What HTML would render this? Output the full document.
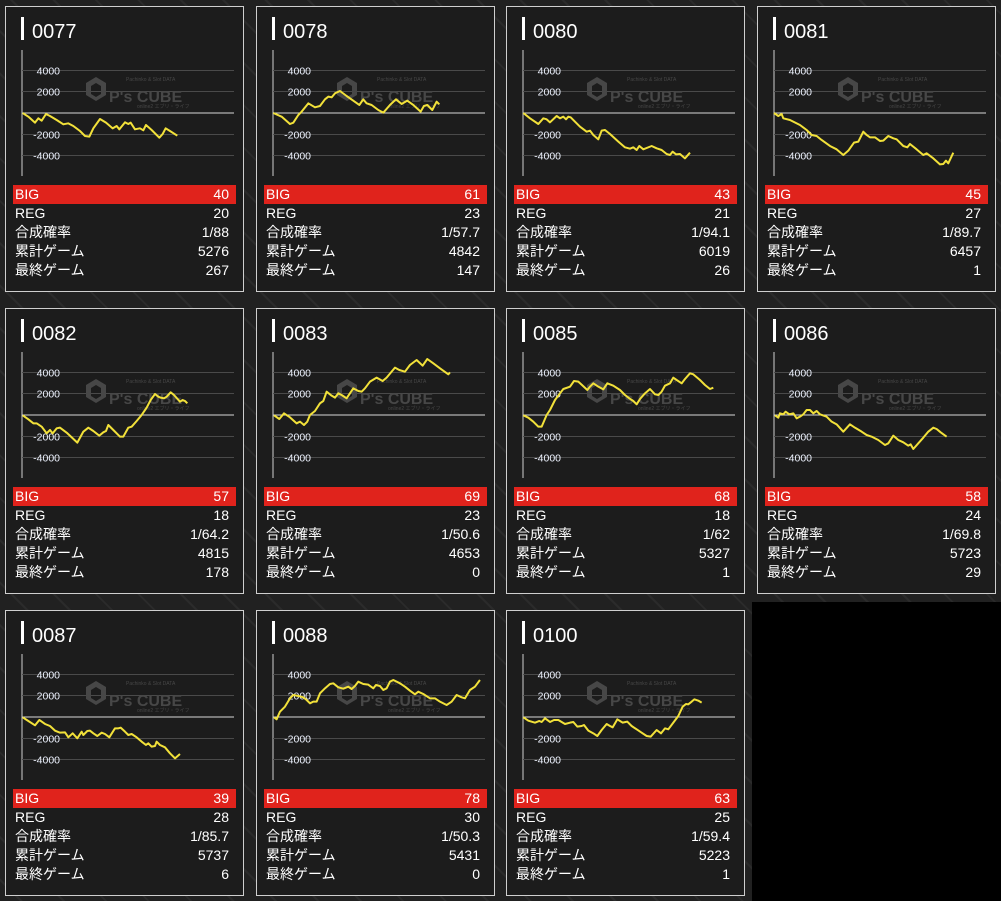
<!DOCTYPE html>
<html><head><meta charset="utf-8">
<style>
html,body{margin:0;padding:0}
body{width:1001px;height:901px;position:relative;overflow:hidden;
background-color:#262626;
background-image:repeating-linear-gradient(45deg,#212121 0 14px,#2b2b2b 14px 16px,#212121 16px 30px),repeating-linear-gradient(-45deg,rgba(0,0,0,.25) 0 14px,rgba(255,255,255,.03) 14px 16px,rgba(0,0,0,.25) 16px 30px);
font-family:"Liberation Sans","Noto Sans CJK JP",sans-serif;color:#fff}
.blk{position:absolute;left:752px;top:602px;width:249px;height:299px;background:#000}
.card{position:absolute;width:237px;height:284px;background:#1c1c1c;border:1px solid #cfcfcf}
.card .t{position:absolute;left:15px;top:10px;height:23px;border-left:3px solid #fff;padding-left:8px;font-size:20px;line-height:23px}
.card .t span{position:relative;top:4px}
.card .rows{position:absolute;left:7px;top:178px;width:223px}
.r{height:19px;line-height:19px;font-size:14px;display:flex;justify-content:space-between;padding:0 7px 0 2px}
.r.big{background:#e0231c}
</style></head><body>
<div class="blk"></div>

<div class="card" style="left:5px;top:6px"><div class="t"><span>0077</span></div><div class="rows"><div class="r big"><span>BIG</span><span>40</span></div><div class="r"><span>REG</span><span>20</span></div><div class="r"><span>合成確率</span><span>1/88</span></div><div class="r"><span>累計ゲーム</span><span>5276</span></div><div class="r"><span>最終ゲーム</span><span>267</span></div></div></div>
<div class="card" style="left:256px;top:6px"><div class="t"><span>0078</span></div><div class="rows"><div class="r big"><span>BIG</span><span>61</span></div><div class="r"><span>REG</span><span>23</span></div><div class="r"><span>合成確率</span><span>1/57.7</span></div><div class="r"><span>累計ゲーム</span><span>4842</span></div><div class="r"><span>最終ゲーム</span><span>147</span></div></div></div>
<div class="card" style="left:506px;top:6px"><div class="t"><span>0080</span></div><div class="rows"><div class="r big"><span>BIG</span><span>43</span></div><div class="r"><span>REG</span><span>21</span></div><div class="r"><span>合成確率</span><span>1/94.1</span></div><div class="r"><span>累計ゲーム</span><span>6019</span></div><div class="r"><span>最終ゲーム</span><span>26</span></div></div></div>
<div class="card" style="left:757px;top:6px"><div class="t"><span>0081</span></div><div class="rows"><div class="r big"><span>BIG</span><span>45</span></div><div class="r"><span>REG</span><span>27</span></div><div class="r"><span>合成確率</span><span>1/89.7</span></div><div class="r"><span>累計ゲーム</span><span>6457</span></div><div class="r"><span>最終ゲーム</span><span>1</span></div></div></div>

<div class="card" style="left:5px;top:308px"><div class="t"><span>0082</span></div><div class="rows"><div class="r big"><span>BIG</span><span>57</span></div><div class="r"><span>REG</span><span>18</span></div><div class="r"><span>合成確率</span><span>1/64.2</span></div><div class="r"><span>累計ゲーム</span><span>4815</span></div><div class="r"><span>最終ゲーム</span><span>178</span></div></div></div>
<div class="card" style="left:256px;top:308px"><div class="t"><span>0083</span></div><div class="rows"><div class="r big"><span>BIG</span><span>69</span></div><div class="r"><span>REG</span><span>23</span></div><div class="r"><span>合成確率</span><span>1/50.6</span></div><div class="r"><span>累計ゲーム</span><span>4653</span></div><div class="r"><span>最終ゲーム</span><span>0</span></div></div></div>
<div class="card" style="left:506px;top:308px"><div class="t"><span>0085</span></div><div class="rows"><div class="r big"><span>BIG</span><span>68</span></div><div class="r"><span>REG</span><span>18</span></div><div class="r"><span>合成確率</span><span>1/62</span></div><div class="r"><span>累計ゲーム</span><span>5327</span></div><div class="r"><span>最終ゲーム</span><span>1</span></div></div></div>
<div class="card" style="left:757px;top:308px"><div class="t"><span>0086</span></div><div class="rows"><div class="r big"><span>BIG</span><span>58</span></div><div class="r"><span>REG</span><span>24</span></div><div class="r"><span>合成確率</span><span>1/69.8</span></div><div class="r"><span>累計ゲーム</span><span>5723</span></div><div class="r"><span>最終ゲーム</span><span>29</span></div></div></div>

<div class="card" style="left:5px;top:610px"><div class="t"><span>0087</span></div><div class="rows"><div class="r big"><span>BIG</span><span>39</span></div><div class="r"><span>REG</span><span>28</span></div><div class="r"><span>合成確率</span><span>1/85.7</span></div><div class="r"><span>累計ゲーム</span><span>5737</span></div><div class="r"><span>最終ゲーム</span><span>6</span></div></div></div>
<div class="card" style="left:256px;top:610px"><div class="t"><span>0088</span></div><div class="rows"><div class="r big"><span>BIG</span><span>78</span></div><div class="r"><span>REG</span><span>30</span></div><div class="r"><span>合成確率</span><span>1/50.3</span></div><div class="r"><span>累計ゲーム</span><span>5431</span></div><div class="r"><span>最終ゲーム</span><span>0</span></div></div></div>
<div class="card" style="left:506px;top:610px"><div class="t"><span>0100</span></div><div class="rows"><div class="r big"><span>BIG</span><span>63</span></div><div class="r"><span>REG</span><span>25</span></div><div class="r"><span>合成確率</span><span>1/59.4</span></div><div class="r"><span>累計ゲーム</span><span>5223</span></div><div class="r"><span>最終ゲーム</span><span>1</span></div></div></div>

<svg width="1001" height="901" style="position:absolute;left:0;top:0" xmlns="http://www.w3.org/2000/svg">
<defs>
<g id="ax">
  <line x1="0" y1="-63" x2="0" y2="63" stroke="#cfcfcf" stroke-width="1"/>
  <g stroke="#4a4a4a" stroke-width="1">
    <line x1="0" y1="-42.5" x2="212" y2="-42.5"/><line x1="0" y1="-21.5" x2="212" y2="-21.5"/>
    <line x1="0" y1="21.5" x2="212" y2="21.5"/><line x1="0" y1="42.5" x2="212" y2="42.5"/>
  </g>
  <line x1="0" y1="0" x2="212" y2="0" stroke="#d8d8d8" stroke-width="1"/>
  <g font-family="Liberation Sans, sans-serif" font-size="10.5" fill="#eef3ff" text-anchor="end">
    <text x="38" y="-38.5">4000</text><text x="38" y="-17.5">2000</text>
    <text x="38" y="25.5">-2000</text><text x="38" y="46.5">-4000</text>
  </g>
  <g fill="#474747">
    <path d="M64 -30 l10 -6 l10 6 v12 l-10 6 l-10 -6z M69 -27 v8 l5 3 l5 -3 v-8 l-5 -3z" fill-rule="evenodd"/>
    <text x="87" y="-11" font-size="16" font-weight="bold" font-family="Liberation Sans, sans-serif">P's CUBE</text>
    <text x="104" y="-32" font-size="5">Pachinko &amp; Slot DATA</text>
    <text x="115" y="-5" font-size="5">online2 エブリ・ライフ</text>
  </g>
</g>
</defs>
<use href="#ax" x="22" y="113"/><use href="#ax" x="273" y="113"/><use href="#ax" x="523" y="113"/><use href="#ax" x="774" y="113"/>
<use href="#ax" x="22" y="415"/><use href="#ax" x="273" y="415"/><use href="#ax" x="523" y="415"/><use href="#ax" x="774" y="415"/>
<use href="#ax" x="22" y="717"/><use href="#ax" x="273" y="717"/><use href="#ax" x="523" y="717"/>
<g fill="none" stroke="#f2e13a" stroke-width="6" stroke-linejoin="round">
<g transform="translate(0,60) scale(0.3333)">
<polyline points="68,159 85,170 105,188 115,175 125,182 138,162 150,168 170,180 190,193 205,190 220,198 240,213 255,228 268,230 280,205 300,177 318,188 338,205 350,198 358,208 375,187 385,192 392,188 405,208 420,205 430,211 438,195 455,210 478,233 488,222 497,205 510,213 532,227"/>
<polyline points="820,159 845,170 870,192 880,188 895,165 905,155 925,130 945,142 960,138 975,118 985,110 995,112 1005,100 1020,93 1040,108 1060,122 1078,135 1090,118 1100,130 1115,135 1135,150 1150,158 1170,135 1188,118 1205,132 1222,122 1240,135 1262,155 1272,138 1282,135 1297,150 1310,125 1318,133"/>
</g>
<g transform="translate(500,60) scale(0.3333)">
<polyline points="70,159 90,175 115,192 130,175 140,178 150,187 170,168 180,175 190,170 198,178 205,170 212,172 225,185 240,200 260,215 270,212 280,225 295,238 305,212 315,210 330,222 355,245 375,262 390,266 400,262 410,270 418,258 430,268 455,258 470,265 485,270 500,282 510,285 518,275 528,283 540,282 555,295 570,278"/>
<polyline points="822,159 835,168 845,162 850,175 870,180 900,195 920,210 935,225 950,228 965,240 990,258 1010,268 1030,285 1045,272 1062,248 1075,245 1090,215 1100,225 1110,232 1125,232 1140,243 1150,242 1165,228 1180,235 1190,238 1210,258 1222,262 1230,252 1250,268 1270,285 1280,280 1300,295 1320,313 1330,312 1338,302 1345,310 1360,278"/>
</g>
<g transform="translate(0,355) scale(0.3333)">
<polyline points="68,181 85,193 100,205 110,205 125,215 140,235 150,225 158,235 170,220 180,218 200,233 232,263 250,230 265,218 280,228 298,242 310,232 318,228 325,210 340,225 360,245 370,245 385,218 395,215 410,198 425,180 440,158 452,135 465,117 475,125 482,128 492,130 500,125 512,112 522,120 540,140 548,135 555,138 562,145"/>
<polyline points="822,181 838,192 852,175 870,187 890,205 900,200 912,210 922,200 930,180 945,168 960,145 970,138 980,110 995,122 1005,128 1015,115 1025,120 1040,130 1060,100 1075,108 1085,110 1095,100 1110,80 1130,68 1148,78 1160,68 1185,38 1198,45 1215,50 1230,30 1250,15 1268,32 1282,12 1300,25 1320,40 1345,58 1350,52"/>
</g>
<g transform="translate(500,355) scale(0.3333)">
<polyline points="70,181 85,188 100,200 115,215 125,215 140,180 150,165 165,135 180,115 190,102 210,95 222,78 235,80 248,92 262,105 270,95 280,85 295,95 310,103 322,85 340,92 360,105 375,120 388,130 400,138 410,148 420,132 435,115 450,102 465,118 475,120 485,110 495,92 510,85 520,68 530,75 545,85 555,72 570,55 580,58 600,75 615,90 630,102 640,98"/>
<polyline points="825,181 835,188 840,175 850,178 857,170 868,178 880,175 890,190 900,185 910,178 920,165 930,165 940,175 950,168 960,178 980,185 995,200 1010,208 1030,230 1050,208 1065,218 1085,230 1100,240 1115,245 1135,255 1155,270 1165,265 1180,242 1195,255 1210,262 1225,272 1232,268 1240,282 1255,265 1270,248 1285,230 1300,218 1310,222 1322,232 1340,245"/>
</g>
<g transform="translate(0,660) scale(0.3333)">
<polyline points="68,172 85,183 105,196 118,180 135,192 150,198 165,212 180,218 195,217 205,232 218,220 232,235 245,215 250,225 262,213 270,212 280,220 292,228 305,218 315,222 328,232 345,205 355,205 362,203 375,215 385,225 395,222 410,232 425,245 438,255 445,250 455,260 465,258 470,245 480,255 495,262 510,280 525,295 540,282"/>
<polyline points="822,172 830,178 840,155 855,140 870,115 880,105 895,108 910,112 920,120 930,130 940,125 950,125 960,100 975,85 990,72 1000,70 1015,82 1030,86 1045,80 1055,87 1065,78 1075,65 1090,72 1105,74 1120,85 1128,75 1140,78 1150,90 1160,85 1170,65 1180,60 1200,70 1215,80 1230,92 1245,103 1255,95 1270,102 1290,115 1305,115 1320,125 1340,135 1355,125 1370,105 1385,112 1395,115 1410,90 1425,80 1440,60"/>
</g>
<g transform="translate(500,660) scale(0.3333)">
<polyline points="70,172 85,182 105,188 118,183 125,186 135,175 150,186 162,180 175,180 195,192 210,188 220,186 232,200 245,198 252,195 265,212 280,220 292,228 305,210 320,192 330,198 338,202 352,178 368,188 382,185 395,198 410,208 425,218 440,228 452,230 470,210 483,220 495,205 505,208 520,188 535,168 548,140 558,132 565,133 575,125 583,118 595,122 605,128"/>
</g>
</g>
</svg>
</body></html>
